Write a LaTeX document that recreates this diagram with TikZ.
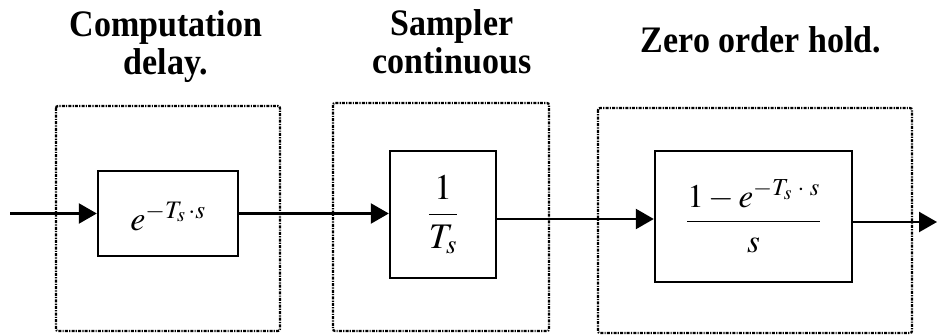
\documentclass[tikz,border=0pt]{standalone}
\usepackage{amsmath}
\usepackage{mathptmx}
\usepackage[no-math]{fontspec}
\setmainfont{Liberation Serif}
\usetikzlibrary{arrows.meta}
\begin{document}
\begin{tikzpicture}[x=1pt,y=-1pt,
  ttl/.style={inner sep=0pt,font=\bfseries\fontsize{34}{34.5}\selectfont},
  blk/.style={draw,line width=2.4pt,inner sep=0pt},
  grp/.style={line width=2.2pt,dash pattern=on 3pt off 1.2pt on 1.2pt off 1.2pt,rounded corners=2pt},
  arr/.style={line width=2.4pt,-{Triangle[length=18pt,width=20pt]}}]
\useasboundingbox (0,0) rectangle (937,336);
% titles
\node[ttl] (t1) at (166,47.5) {\scalebox{1}[1.1]{\begin{tabular}{@{}c@{}}Computation\\delay.\end{tabular}}};
\node[ttl] (t2) at (452,47) {\scalebox{1}[1.1]{\begin{tabular}{@{}c@{}}Sampler\\continuous\end{tabular}}};
\node[ttl,anchor=base] (t3) at (761,53) {\scalebox{1}[1.1]{Zero order hold.}};
% dotted group frames
\draw[grp] (56,106) rectangle (280,331);
\draw[grp] (333,103) rectangle (549,331);
\draw[grp] (598,108) rectangle (912,333);
% blocks
\node[blk,minimum width=140pt,minimum height=85pt,text height=0pt,text depth=0pt,font=\fontsize{34}{38}\selectfont] (b1) at (168,213.5) {\raisebox{-17pt}{$e^{-T_s\,\cdot s}$}};
\node[blk,minimum width=106pt,minimum height=127pt,font=\fontsize{36}{40}\selectfont] (b2) at (443,214.5) {$\dfrac{1}{T_s}$};
\node[blk,minimum width=197pt,minimum height=131pt,font=\fontsize{33}{38}\selectfont] (b3) at (753.5,216.5) {$\dfrac{1-e^{-T_s\;\cdot\; s}}{s}$};
% connectors
\coordinate (in) at (10,213.5);
\coordinate (r2) at (0,219);
\coordinate (out) at (937,222);
\draw[arr] (in) -- (b1.west);
\draw[arr] (b1.east) -- (b2.west |- b1.east);
\draw[arr] (b2.east |- r2) -- (b3.west |- r2);
\draw[arr] (b3.east |- out) -- (out);
\end{tikzpicture}
\end{document}
